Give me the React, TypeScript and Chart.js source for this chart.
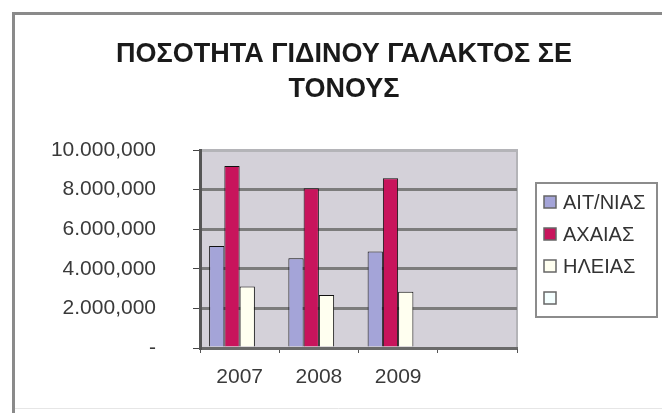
import React, { useEffect, useRef } from "react";
import { Chart, registerables } from "chart.js";

Chart.register(...registerables);

const titleLines = ["ΠΟΣΟΤΗΤΑ ΓΙΔΙΝΟΥ ΓΑΛΑΚΤΟΣ ΣΕ", "ΤΟΝΟΥΣ"];
const categories = ["2007", "2008", "2009", ""];
const seriesNames = ["ΑΙΤ/ΝΙΑΣ", "ΑΧΑΙΑΣ", "ΗΛΕΙΑΣ", ""];
const aitoloakarnania = [5150000, 4530000, 4870000, null];
const achaia = [9190000, 8070000, 8570000, null];
const ileia = [3100000, 2680000, 2840000, null];
const emptySeries = [null, null, null, null];
const seriesColors = ["#a4a4d8", "#c8145c", "#fffff0", "#f4ffff"];
const yTickLabels = ["-", "2.000,000", "4.000,000", "6.000,000", "8.000,000", "10.000,000"];

const FONT = "'Liberation Sans', Arial, sans-serif";

const decorPlugin = {
  id: "decor",
  beforeDraw(chart: any) {
    const { ctx, chartArea } = chart;
    ctx.save();
    ctx.fillStyle = "#ffffff";
    ctx.fillRect(0, 0, chart.width, chart.height);
    // outer frame
    ctx.strokeStyle = "#8a8a8a";
    ctx.lineWidth = 3;
    ctx.beginPath();
    ctx.moveTo(13.5, chart.height);
    ctx.lineTo(13.5, 13.5);
    ctx.lineTo(chart.width, 13.5);
    ctx.stroke();
    ctx.strokeStyle = "#e6e6e6";
    ctx.lineWidth = 1;
    ctx.beginPath();
    ctx.moveTo(15, 408.5);
    ctx.lineTo(chart.width, 408.5);
    ctx.stroke();
    // plot background
    ctx.fillStyle = "#d4d1d9";
    ctx.fillRect(chartArea.left, chartArea.top, chartArea.right - chartArea.left, chartArea.bottom - chartArea.top);
    ctx.strokeStyle = "#b4b4b8";
    ctx.lineWidth = 2;
    ctx.strokeRect(chartArea.left, chartArea.top, chartArea.right - chartArea.left, chartArea.bottom - chartArea.top);
    ctx.restore();
  },
  afterDraw(chart: any) {
    const { ctx } = chart;
    ctx.save();
    // title
    ctx.fillStyle = "#1a1a1a";
    ctx.font = `bold 27px ${FONT}`;
    ctx.textAlign = "center";
    ctx.textBaseline = "alphabetic";
    ctx.fillText(titleLines[0], 344, 62);
    ctx.fillText(titleLines[1], 344, 97);
    // legend
    ctx.strokeStyle = "#8c8c8c";
    ctx.lineWidth = 2;
    ctx.strokeRect(536, 183, 121, 134);
    const ys = [202, 234, 266, 298];
    ctx.font = `20px ${FONT}`;
    ctx.textAlign = "left";
    ctx.textBaseline = "middle";
    chart.data.datasets.forEach((ds: any, i: number) => {
      ctx.fillStyle = ds.backgroundColor;
      ctx.fillRect(544, ys[i] - 6, 12, 12);
      ctx.strokeStyle = "#666666";
      ctx.lineWidth = 1.5;
      ctx.strokeRect(544, ys[i] - 6, 12, 12);
      ctx.fillStyle = "#333333";
      ctx.fillText(ds.label, 563, ys[i] + 1);
    });
    ctx.restore();
  },
};

export default function App() {
  const canvasRef = useRef<HTMLCanvasElement>(null);

  useEffect(() => {
    document.body.style.margin = "0";
    const canvas = canvasRef.current;
    if (!canvas) return;
    const seriesData = [aitoloakarnania, achaia, ileia, emptySeries];
    const chart = new Chart(canvas, {
      type: "bar",
      data: {
        labels: categories,
        datasets: seriesNames.map((name, i) => ({
          label: name,
          data: seriesData[i],
          backgroundColor: seriesColors[i],
          borderColor: "#111111",
          borderWidth: 1,
          barPercentage: 1,
          categoryPercentage: 0.77,
        })),
      },
      options: {
        responsive: false,
        animation: false,
        devicePixelRatio: 1,
        layout: { padding: { top: 150, right: 145, bottom: 0, left: 0 } },
        plugins: {
          legend: { display: false },
          title: { display: false },
          tooltip: { enabled: false },
        },
        scales: {
          x: {
            afterFit(scale: any) {
              scale.height = 65;
            },
            grid: {
              drawOnChartArea: false,
              drawTicks: true,
              tickLength: 5,
              tickColor: "#555555",
              tickWidth: 1,
            },
            border: { display: true, color: "#6a6a6a", width: 2 },
            ticks: {
              color: "#3a3a3a",
              padding: 12,
              font: { family: FONT, size: 21 },
              maxRotation: 0,
            },
          },
          y: {
            min: 0,
            max: 10000000,
            afterFit(scale: any) {
              scale.width = 200;
            },
            ticks: {
              stepSize: 2000000,
              color: "#3a3a3a",
              padding: 37,
              font: { family: FONT, size: 21 },
              callback: (_v: any, index: number) => yTickLabels[index],
            },
            grid: {
              color: (c: any) => (c.tick && c.tick.value === 10000000 ? "#b4b4b8" : c.tick && c.tick.value === 0 ? "#6a6a6a" : "#7c7c7c"),
              lineWidth: 3,
              tickLength: 7,
              tickColor: "#444444",
              tickWidth: 1,
            },
            border: { display: true, color: "#555555", width: 3 },
          },
        },
      },
      plugins: [decorPlugin],
    });
    return () => chart.destroy();
  }, []);

  return (
    <div style={{ width: 662, height: 413 }}>
      <canvas ref={canvasRef} width={662} height={413} style={{ display: "block" }} />
    </div>
  );
}
